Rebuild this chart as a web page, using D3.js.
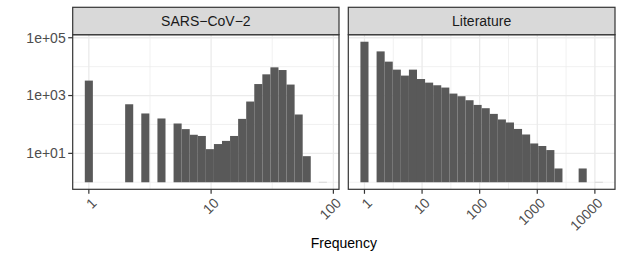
<!DOCTYPE html>
<html>
<head>
<meta charset="utf-8">
<script src="https://cdn.jsdelivr.net/npm/d3@7"></script>
<style>
  body { margin: 0; background: #fff; }
  text { font-family: "Liberation Sans", Arial, Helvetica, sans-serif; }
</style>
</head>
<body>
<svg id="chart" width="623" height="260"></svg>
<script>
// ---- data ----
const panelNames = ["SARS\u2212CoV\u22122", "Literature"];
// histogram bin width in log10(frequency) units (30 bins each)
const sarsBinWidth = 0.066;
const litBinWidth = 0.1403;
// counts per bin (bin k is centred on log10(freq) = k * binWidth)
const sarsCounts = [3290, 0, 0, 0, 0, 500, 0, 240, 0, 161, 0, 108, 69, 44, 40, 14, 21, 27, 40, 156, 621, 2500, 5420, 9460, 7640, 2400, 221, 8, 0, 1];
const litCounts = [72800, 0, 33700, 14900, 7880, 4900, 7880, 3730, 2800, 2270, 1890, 1170, 946, 689, 474, 365, 232, 149, 117, 70, 45, 22, 18, 13, 3, 0, 0, 3, 0, 1];
const sarsTicks = [1, 10, 100];
const litTicks = [1, 10, 100, 1000, 10000];
const yTicks = [10, 1000, 100000];
const yTickLabels = ["1e+01", "1e+03", "1e+05"];
const xTitle = "Frequency";

// ---- layout ----
const svg = d3.select("#chart");
svg.append("rect").attr("width", 623).attr("height", 260).attr("fill", "#fff");

const stripTop = 7.3, panelTop = 34.7, panelBottom = 189.3;
const yMaxLog = Math.log10(d3.max(litCounts));
const yPad = 0.05 * yMaxLog;
const y = d3.scaleLog()
  .domain([Math.pow(10, -yPad), Math.pow(10, yMaxLog + yPad)])
  .range([panelBottom, panelTop]);

const panels = [
  { name: panelNames[0], w: sarsBinWidth, counts: sarsCounts, ticks: sarsTicks, x0: 72.7, x1: 339.0 },
  { name: panelNames[1], w: litBinWidth, counts: litCounts, ticks: litTicks, x0: 348.3, x1: 615.0 }
];

const gridCol = "#EBEBEB", darkCol = "#333333", barCol = "#595959";

panels.forEach((p, pi) => {
  const n = p.counts.length;
  const lo = -p.w / 2, hi = (n - 0.5) * p.w;
  const pad = 0.05 * (hi - lo);
  const x = d3.scaleLog()
    .domain([Math.pow(10, lo - pad), Math.pow(10, hi + pad)])
    .range([p.x0, p.x1]);
  const g = svg.append("g");
  const [dlo, dhi] = x.domain().map(Math.log10);

  // minor grid x (half decades)
  for (let e = Math.floor(dlo) - 0.5; e <= dhi; e += 1) {
    if (e >= dlo && e <= dhi)
      g.append("line").attr("x1", x(Math.pow(10, e))).attr("x2", x(Math.pow(10, e)))
        .attr("y1", panelTop).attr("y2", panelBottom)
        .attr("stroke", gridCol).attr("stroke-width", 0.7);
  }
  // minor grid y
  [1, 100, 10000].forEach(v => {
    g.append("line").attr("x1", p.x0).attr("x2", p.x1).attr("y1", y(v)).attr("y2", y(v))
      .attr("stroke", gridCol).attr("stroke-width", 0.7);
  });
  // major grid
  p.ticks.forEach(v => {
    g.append("line").attr("x1", x(v)).attr("x2", x(v)).attr("y1", panelTop).attr("y2", panelBottom)
      .attr("stroke", gridCol).attr("stroke-width", 1.3);
  });
  yTicks.forEach(v => {
    g.append("line").attr("x1", p.x0).attr("x2", p.x1).attr("y1", y(v)).attr("y2", y(v))
      .attr("stroke", gridCol).attr("stroke-width", 1.3);
  });

  // bars
  const bins = p.counts.map((c, k) => ({ k, c })).filter(d => d.c > 0);
  g.selectAll("rect.bar").data(bins).enter().append("rect")
    .attr("class", "bar")
    .attr("x", d => x(Math.pow(10, (d.k - 0.5) * p.w)))
    .attr("width", d => x(Math.pow(10, (d.k + 0.5) * p.w)) - x(Math.pow(10, (d.k - 0.5) * p.w)))
    .attr("y", d => y(d.c))
    .attr("height", d => Math.max(0, y(1) - y(d.c)))
    .attr("fill", barCol);
  // zero-height bars (count 1) drawn as a faint line
  bins.filter(d => d.c === 1).forEach(d => {
    g.append("line")
      .attr("x1", x(Math.pow(10, (d.k - 0.5) * p.w))).attr("x2", x(Math.pow(10, (d.k + 0.5) * p.w)))
      .attr("y1", y(1)).attr("y2", y(1)).attr("stroke", "#d0d0d0").attr("stroke-width", 0.8);
  });

  // panel border
  g.append("rect").attr("x", p.x0).attr("y", panelTop).attr("width", p.x1 - p.x0)
    .attr("height", panelBottom - panelTop).attr("fill", "none")
    .attr("stroke", darkCol).attr("stroke-width", 1.2);

  // strip
  g.append("rect").attr("x", p.x0).attr("y", stripTop).attr("width", p.x1 - p.x0)
    .attr("height", panelTop - stripTop).attr("fill", "#D9D9D9")
    .attr("stroke", darkCol).attr("stroke-width", 1.2);
  g.append("text").attr("x", (p.x0 + p.x1) / 2).attr("y", 26)
    .attr("text-anchor", "middle").attr("font-size", 14).attr("fill", "#1A1A1A")
    .text(p.name);

  // x ticks and labels
  p.ticks.forEach(v => {
    g.append("line").attr("x1", x(v)).attr("x2", x(v)).attr("y1", panelBottom).attr("y2", panelBottom + 4.5)
      .attr("stroke", darkCol).attr("stroke-width", 1.2);
    g.append("text")
      .attr("transform", `translate(${x(v) + 1.5},${panelBottom + 7.5}) rotate(-45)`)
      .attr("text-anchor", "end").attr("dy", "0.72em")
      .attr("font-size", 14).attr("fill", "#4D4D4D")
      .text(d3.format("d")(v));
  });

  // y axis (left panel only)
  if (pi === 0) {
    yTicks.forEach((v, i) => {
      g.append("line").attr("x1", p.x0 - 4.5).attr("x2", p.x0).attr("y1", y(v)).attr("y2", y(v))
        .attr("stroke", darkCol).attr("stroke-width", 1.2);
      g.append("text").attr("x", p.x0 - 7).attr("y", y(v)).attr("dy", "0.35em")
        .attr("text-anchor", "end").attr("font-size", 14).attr("fill", "#4D4D4D")
        .text(yTickLabels[i]);
    });
  }
});

svg.append("text").attr("x", (72.7 + 615) / 2).attr("y", 248)
  .attr("text-anchor", "middle").attr("font-size", 14).attr("fill", "#000")
  .text(xTitle);
</script>
</body>
</html>
